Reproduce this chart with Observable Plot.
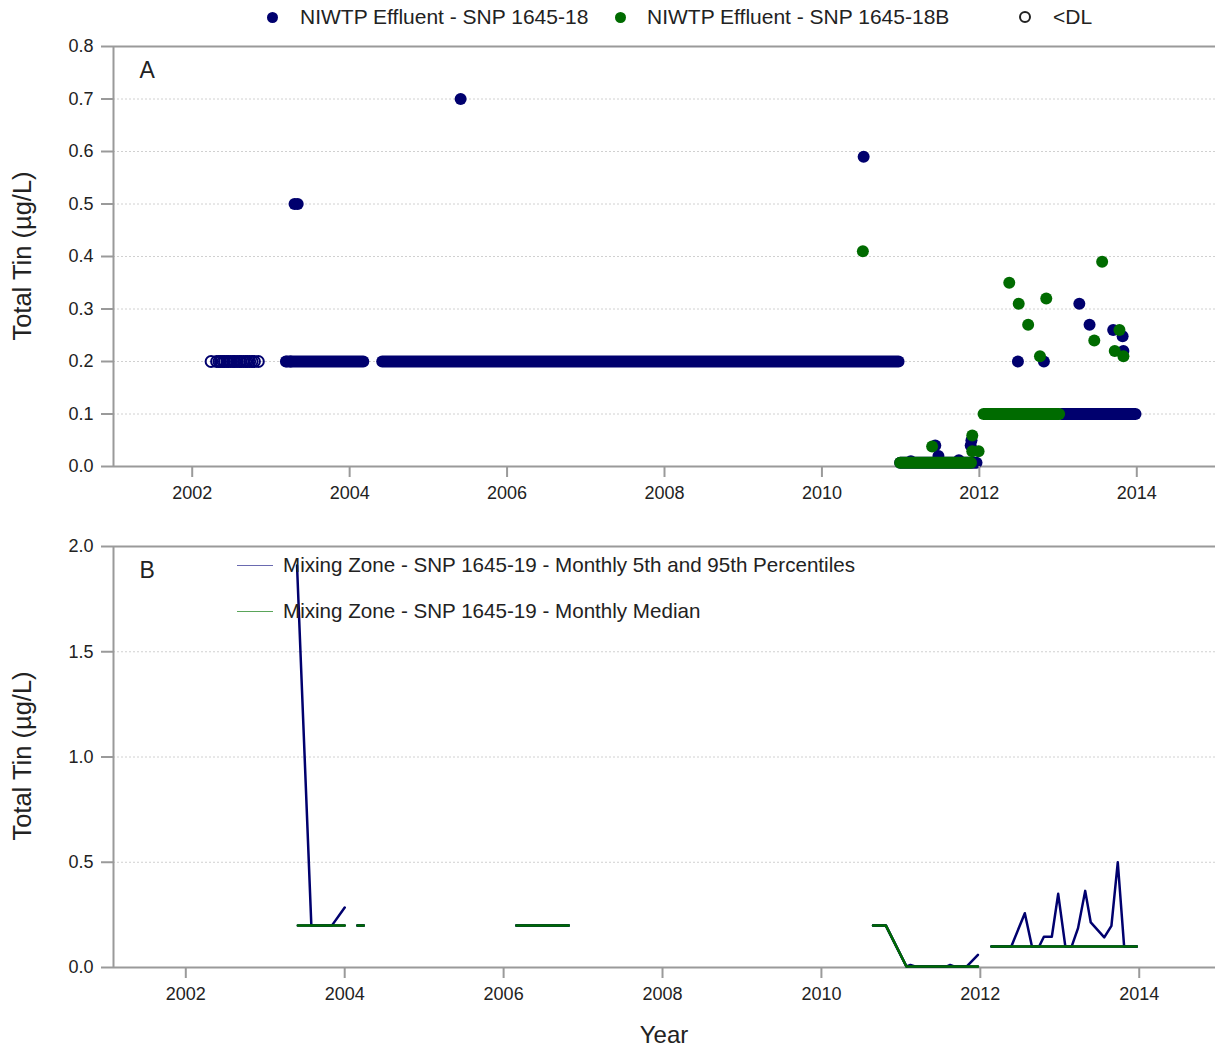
<!DOCTYPE html>
<html><head><meta charset="utf-8">
<script src="https://cdn.jsdelivr.net/npm/d3@7"></script>
<script src="https://cdn.jsdelivr.net/npm/@observablehq/plot@0.6"></script>
<style>
body{margin:0;background:#fff;font-family:"Liberation Sans",Arial,sans-serif;color:#222;}
#wrap{position:relative;width:1215px;height:1049px;overflow:hidden;background:#fff;}
#wrap svg{position:absolute;left:0;background:transparent;overflow:visible;}
.abs{position:absolute;white-space:nowrap;}
.leg{font-size:21px;line-height:24px;}
.legb{font-size:20.6px;line-height:24px;}
.ytitle{position:absolute;white-space:nowrap;font-size:25.5px;line-height:28px;transform:translate(-50%,-50%) rotate(-90deg);}
.dot{position:absolute;border-radius:50%;}
.lline{position:absolute;height:0;}
</style></head><body><div id="wrap"></div>
<script>
const NAVY = "#00006e", GREEN = "#006b00", AXIS = "#9a9a9a", GRID = "#d0d0d0";

// ---- shared ticks ----
const xTicks = [2002, 2004, 2006, 2008, 2010, 2012, 2014];
const yTicksA = [0, 0.1, 0.2, 0.3, 0.4, 0.5, 0.6, 0.7, 0.8];
const yTicksB = [0, 0.5, 1.0, 1.5, 2.0];
const xDomainA = [2001, 2015];
const xDomainB = [2001.09, 2014.96];

// ---- Panel A: NIWTP Effluent SNP 1645-18 (navy) ----
// individual samples [year, value]
const s18Points = [
  [2003.19, 0.2], [2003.25, 0.2], [2003.30, 0.5], [2003.34, 0.5], [2005.41, 0.70], [2010.53, 0.59],
  [2011.13, 0.01], [2011.44, 0.04], [2011.48, 0.02], [2011.74, 0.012], [2011.89, 0.04], [2011.90, 0.05],
  [2012.49, 0.2], [2012.82, 0.2], [2013.27, 0.31], [2013.40, 0.27], [2013.70, 0.26], [2013.82, 0.248], [2013.83, 0.22]
];
// dense weekly runs at a constant reported value [startYear, endYear, value]
const s18Runs = [
  [2003.21, 2004.18, 0.2], [2004.42, 2010.98, 0.2], [2011.00, 2011.97, 0.007], [2013.05, 2013.99, 0.1]
];
// below detection limit samples (open circles) [year, value]
const s18DL = [
  [2002.24, 0.2], [2002.31, 0.2], [2002.34, 0.2], [2002.36, 0.2], [2002.39, 0.2], [2002.41, 0.2], [2002.44, 0.2],
  [2002.46, 0.2], [2002.49, 0.2], [2002.52, 0.2], [2002.54, 0.2], [2002.57, 0.2], [2002.60, 0.2], [2002.62, 0.2],
  [2002.65, 0.2], [2002.68, 0.2], [2002.70, 0.2], [2002.73, 0.2], [2002.76, 0.2], [2002.79, 0.2], [2002.84, 0.2]
];

// ---- Panel A: NIWTP Effluent SNP 1645-18B (green) ----
const s18bPoints = [
  [2010.52, 0.41], [2011.40, 0.038], [2011.91, 0.059], [2011.91, 0.029], [2011.99, 0.029],
  [2012.38, 0.35], [2012.50, 0.31], [2012.62, 0.27], [2012.77, 0.21], [2012.85, 0.32],
  [2013.46, 0.24], [2013.56, 0.39], [2013.72, 0.22], [2013.78, 0.26], [2013.83, 0.21]
];
const s18bRuns = [
  [2011.00, 2011.90, 0.007], [2012.06, 2013.02, 0.1]
];

// ---- Panel B: Mixing Zone SNP 1645-19 monthly statistics [year, value]; NaN = no data ----
const p95 = [
  [2003.40, 1.91], [2003.58, 0.2], [2003.84, 0.2], [2004.00, 0.285], [2004.08, NaN],
  [2004.16, 0.2], [2004.24, 0.2], [2005.0, NaN],
  [2006.16, 0.2], [2006.82, 0.2], [2008.0, NaN],
  [2010.65, 0.2], [2010.81, 0.2], [2011.07, 0.005], [2011.12, 0.012], [2011.18, 0.005], [2011.58, 0.005],
  [2011.62, 0.012], [2011.67, 0.005], [2011.83, 0.005], [2011.97, 0.06], [2012.05, NaN],
  [2012.14, 0.1], [2012.39, 0.1], [2012.56, 0.258], [2012.65, 0.1], [2012.74, 0.1], [2012.80, 0.146],
  [2012.90, 0.146], [2012.98, 0.35], [2013.07, 0.1], [2013.15, 0.1], [2013.23, 0.187], [2013.32, 0.364],
  [2013.39, 0.214], [2013.56, 0.143], [2013.65, 0.198], [2013.73, 0.50], [2013.81, 0.1], [2013.97, 0.1]
];
const p5 = [
  [2003.41, 0.2], [2004.00, 0.2], [2004.08, NaN], [2004.16, 0.2], [2004.24, 0.2], [2005.0, NaN],
  [2006.16, 0.2], [2006.82, 0.2], [2008.0, NaN],
  [2010.65, 0.2], [2010.81, 0.2], [2011.07, 0.005], [2011.97, 0.005], [2012.05, NaN],
  [2012.14, 0.1], [2013.97, 0.1]
];
const median = [
  [2003.41, 0.2], [2004.00, 0.2], [2004.08, NaN], [2004.16, 0.2], [2004.24, 0.2], [2005.0, NaN],
  [2006.16, 0.2], [2006.82, 0.2], [2008.0, NaN],
  [2010.65, 0.2], [2010.81, 0.2], [2011.07, 0.005], [2011.97, 0.005], [2012.05, NaN],
  [2012.14, 0.1], [2013.97, 0.1]
];

const FONT = '"Liberation Sans", Arial, sans-serif';
const X = d => d[0], Y = d => d[1];

function frameMarks(yTicks, xDomain, yMax) {
  return [
    Plot.gridY(yTicks.slice(1, -1), {stroke: GRID, strokeOpacity: 1, strokeDasharray: "2,2"}),
    Plot.ruleY([yMax], {stroke: AXIS, strokeWidth: 2}),
    Plot.ruleY([0], {stroke: AXIS, strokeWidth: 2}),
    Plot.ruleX([xDomain[0]], {stroke: AXIS, strokeWidth: 2}),
  ];
}
function axisMarks(yTicks) {
  return [
    Plot.axisX(xTicks, {tickFormat: "d", tickSize: 11, tickPadding: 9, stroke: AXIS, strokeWidth: 2, fill: "#222", fontSize: 18, label: null}),
    Plot.axisY(yTicks, {tickFormat: ".1f", tickSize: 12, tickPadding: 8, stroke: AXIS, strokeWidth: 2, fill: "#222", fontSize: 18, label: null})
  ];
}
function panelLabel(s) {
  return Plot.text([s], {text: d => d, frameAnchor: "top-left", dx: 26, dy: 15, lineAnchor: "top", textAnchor: "start", fontSize: 23, fill: "#222"});
}

const plotA = Plot.plot({
  width: 1215, height: 510,
  marginLeft: 113, marginRight: 0, marginTop: 46, marginBottom: 44,
  style: {fontFamily: FONT, fontSize: "18px", background: "transparent", color: "#222"},
  x: {domain: xDomainA},
  y: {domain: [0, 0.8]},
  marks: [
    ...frameMarks(yTicksA, xDomainA, 0.8),
    Plot.ruleY(s18Runs, {x1: d => d[0], x2: d => d[1], y: d => d[2], stroke: NAVY, strokeWidth: 12, strokeLinecap: "round"}),
    Plot.dot(s18DL, {x: X, y: Y, r: 5.5, fill: "none", stroke: NAVY, strokeWidth: 2}),
    Plot.dot(s18Points, {x: X, y: Y, r: 6, fill: NAVY}),
    Plot.ruleY(s18bRuns, {x1: d => d[0], x2: d => d[1], y: d => d[2], stroke: GREEN, strokeWidth: 12, strokeLinecap: "round"}),
    Plot.dot(s18bPoints, {x: X, y: Y, r: 6, fill: GREEN}),
    panelLabel("A"),
    ...axisMarks(yTicksA)
  ]
});
plotA.style.top = "0px";

const plotB = Plot.plot({
  width: 1215, height: 539,
  marginLeft: 113, marginRight: 0, marginTop: 36, marginBottom: 82,
  style: {fontFamily: FONT, fontSize: "18px", background: "transparent", color: "#222"},
  x: {domain: xDomainB},
  y: {domain: [0, 2]},
  marks: [
    ...frameMarks(yTicksB, xDomainB, 2),
    Plot.line(p95, {x: X, y: Y, stroke: NAVY, strokeWidth: 2.5}),
    Plot.line(p5, {x: X, y: Y, stroke: NAVY, strokeWidth: 2.5}),
    Plot.line(median, {x: X, y: Y, stroke: GREEN, strokeWidth: 2.5}),
    panelLabel("B"),
    ...axisMarks(yTicksB)
  ]
});
plotB.style.top = "510px";

const wrap = document.getElementById("wrap");
wrap.appendChild(plotA);
wrap.appendChild(plotB);

function add(html) { wrap.insertAdjacentHTML("beforeend", html); }
// top legend
add(`<div class="dot" style="left:266.5px;top:11.5px;width:11px;height:11px;background:${NAVY}"></div>`);
add(`<div class="abs leg" style="left:300px;top:5px">NIWTP Effluent - SNP 1645-18</div>`);
add(`<div class="dot" style="left:614.5px;top:11.5px;width:11px;height:11px;background:${GREEN}"></div>`);
add(`<div class="abs leg" style="left:647px;top:5px">NIWTP Effluent - SNP 1645-18B</div>`);
add(`<div class="dot" style="left:1019px;top:11px;width:8px;height:8px;border:2px solid #222;background:#fff"></div>`);
add(`<div class="abs leg" style="left:1053px;top:5px">&lt;DL</div>`);
// panel B legend
add(`<div class="lline" style="left:237px;top:564.5px;width:36px;border-top:1.5px solid #6a6ab0"></div>`);
add(`<div class="abs legb" style="left:283px;top:553px">Mixing Zone - SNP 1645-19 - Monthly 5th and 95th Percentiles</div>`);
add(`<div class="lline" style="left:237px;top:610.5px;width:36px;border-top:1.5px solid #5aa55a"></div>`);
add(`<div class="abs legb" style="left:283px;top:599px">Mixing Zone - SNP 1645-19 - Monthly Median</div>`);
// axis titles
add(`<div class="ytitle" style="left:22px;top:256px">Total Tin (µg/L)</div>`);
add(`<div class="ytitle" style="left:22px;top:756px">Total Tin (µg/L)</div>`);
add(`<div class="abs" style="left:664px;top:1021px;transform:translateX(-50%);font-size:24px;line-height:28px">Year</div>`);
</script>
</body></html>
